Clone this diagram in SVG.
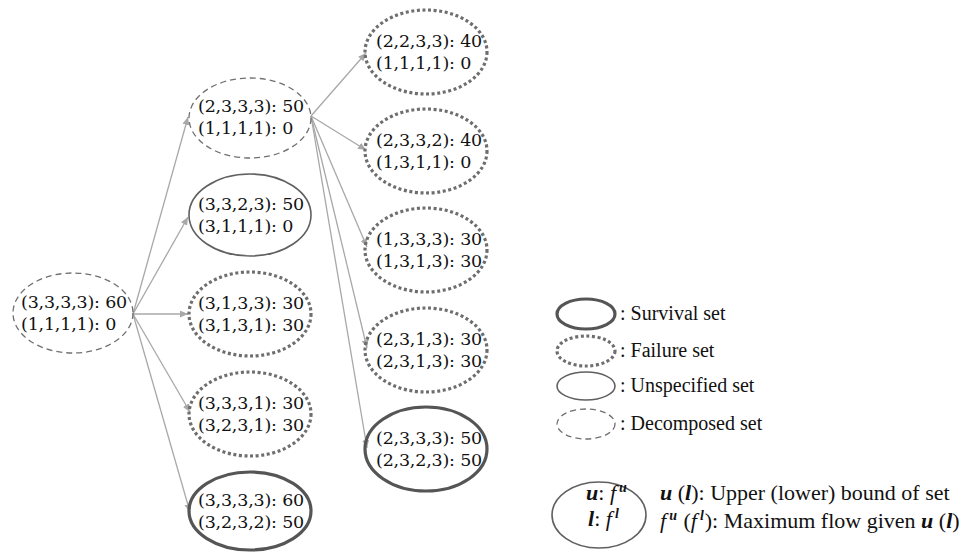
<svg xmlns="http://www.w3.org/2000/svg" width="971" height="553" viewBox="0 0 971 553">
<defs>
<marker id="ah" markerUnits="userSpaceOnUse" markerWidth="9" markerHeight="7" refX="8" refY="3.5" orient="auto">
<path d="M0,0 L8,3.5 L0,7 z" fill="#a8a8a8"/>
</marker>
<style>
.n{font-family:"DejaVu Serif","Liberation Serif",serif;font-size:17.5px;letter-spacing:-0.2px;fill:#111111}
.lg{font-family:"Liberation Serif","Times New Roman",serif;font-size:20px;fill:#111111}
.k{font-family:"Liberation Serif","Times New Roman",serif;font-size:22px;fill:#111111}
.bi{font-weight:bold;font-style:italic}
.it{font-style:italic}
.sup{font-weight:bold;font-style:italic;font-size:14px}
.dec{fill:none;stroke:#707070;stroke-width:1.3;stroke-dasharray:6 4}
.uns{fill:none;stroke:#606060;stroke-width:1.6}
.fail{fill:none;stroke:#6e6e6e;stroke-width:3.2;stroke-dasharray:3 2.6}
.surv{fill:none;stroke:#555555;stroke-width:3.2}
.arr{stroke:#a8a8a8;stroke-width:1.3;fill:none;marker-end:url(#ah)}
</style>
</defs>
<rect width="971" height="553" fill="#ffffff"/>

<g id="connectors">
<line class="arr" x1="133" y1="314" x2="188" y2="117"/>
<line class="arr" x1="133" y1="314" x2="188" y2="217"/>
<line class="arr" x1="133" y1="314" x2="188" y2="314"/>
<line class="arr" x1="133" y1="314" x2="190" y2="412"/>
<line class="arr" x1="133" y1="314" x2="190" y2="512"/>
<line class="arr" x1="311" y1="116" x2="366" y2="53"/>
<line class="arr" x1="311" y1="116" x2="366" y2="150"/>
<line class="arr" x1="311" y1="116" x2="367" y2="247"/>
<line class="arr" x1="311" y1="116" x2="367" y2="348"/>
<line class="arr" x1="311" y1="116" x2="367" y2="448"/>
</g>

<g id="root">
<ellipse class="dec" cx="73" cy="313" rx="60" ry="40"/>
<text class="n" x="21" y="308">(3,3,3,3): 60</text>
<text class="n" x="21" y="330">(1,1,1,1): 0</text>
</g>

<g id="n2333">
<ellipse class="dec" cx="250" cy="118" rx="61" ry="40"/>
<text class="n" x="198" y="112">(2,3,3,3): 50</text>
<text class="n" x="198" y="134">(1,1,1,1): 0</text>
</g>
<g id="n3323">
<ellipse class="uns" cx="250" cy="215" rx="61" ry="41"/>
<text class="n" x="198" y="210">(3,3,2,3): 50</text>
<text class="n" x="198" y="232">(3,1,1,1): 0</text>
</g>
<g id="n3133">
<ellipse class="fail" cx="250" cy="314" rx="61" ry="42"/>
<text class="n" x="198" y="309">(3,1,3,3): 30</text>
<text class="n" x="198" y="331">(3,1,3,1): 30</text>
</g>
<g id="n3331">
<ellipse class="fail" cx="250" cy="414" rx="61" ry="42"/>
<text class="n" x="198" y="409">(3,3,3,1): 30</text>
<text class="n" x="198" y="431">(3,2,3,1): 30</text>
</g>
<g id="n3333">
<ellipse class="surv" cx="250" cy="511" rx="61" ry="39"/>
<text class="n" x="198" y="506">(3,3,3,3): 60</text>
<text class="n" x="198" y="528">(3,2,3,2): 50</text>
</g>

<g id="n2233">
<ellipse class="fail" cx="426" cy="52" rx="61" ry="42"/>
<text class="n" x="376" y="47">(2,2,3,3): 40</text>
<text class="n" x="376" y="69">(1,1,1,1): 0</text>
</g>
<g id="n2332">
<ellipse class="fail" cx="426" cy="151" rx="61" ry="42"/>
<text class="n" x="376" y="146">(2,3,3,2): 40</text>
<text class="n" x="376" y="168">(1,3,1,1): 0</text>
</g>
<g id="n1333">
<ellipse class="fail" cx="426" cy="250" rx="61" ry="42"/>
<text class="n" x="376" y="245">(1,3,3,3): 30</text>
<text class="n" x="376" y="267">(1,3,1,3): 30</text>
</g>
<g id="n2313">
<ellipse class="fail" cx="426" cy="350" rx="61" ry="42"/>
<text class="n" x="376" y="345">(2,3,1,3): 30</text>
<text class="n" x="376" y="367">(2,3,1,3): 30</text>
</g>
<g id="n2333b">
<ellipse class="surv" cx="426" cy="449" rx="61" ry="42"/>
<text class="n" x="376" y="444">(2,3,3,3): 50</text>
<text class="n" x="376" y="466">(2,3,2,3): 50</text>
</g>

<g id="legend">
<ellipse class="surv" cx="586" cy="314" rx="29" ry="15"/>
<text class="lg" x="620" y="320">: Survival set</text>
<ellipse class="fail" cx="586" cy="351" rx="29" ry="15"/>
<text class="lg" x="620" y="357">: Failure set</text>
<ellipse class="uns" cx="586" cy="386" rx="29" ry="14"/>
<text class="lg" x="620" y="392">: Unspecified set</text>
<ellipse class="dec" cx="586" cy="424" rx="29" ry="15"/>
<text class="lg" x="620" y="430">: Decomposed set</text>
</g>

<g id="key">
<ellipse class="uns" cx="599" cy="515" rx="47" ry="33"/>
<text class="k" x="586" y="500"><tspan class="bi">u</tspan>: <tspan class="it">f</tspan><tspan class="sup" dx="3" dy="-8">u</tspan></text>
<text class="k" x="588" y="526"><tspan class="bi">l</tspan>: <tspan class="it">f</tspan><tspan class="sup" dx="3" dy="-8">l</tspan></text>
<text class="k" x="660" y="500"><tspan class="bi">u</tspan> (<tspan class="bi">l</tspan>): Upper (lower) bound of set</text>
<text class="k" x="660" y="528"><tspan class="it">f</tspan><tspan class="sup" dx="3" dy="-8">u</tspan><tspan dx="1" dy="8"> (</tspan><tspan class="it">f</tspan><tspan class="sup" dx="3" dy="-8">l</tspan><tspan dx="1" dy="8">): Maximum flow given </tspan><tspan class="bi">u</tspan> (<tspan class="bi">l</tspan>)</text>
</g>
</svg>
